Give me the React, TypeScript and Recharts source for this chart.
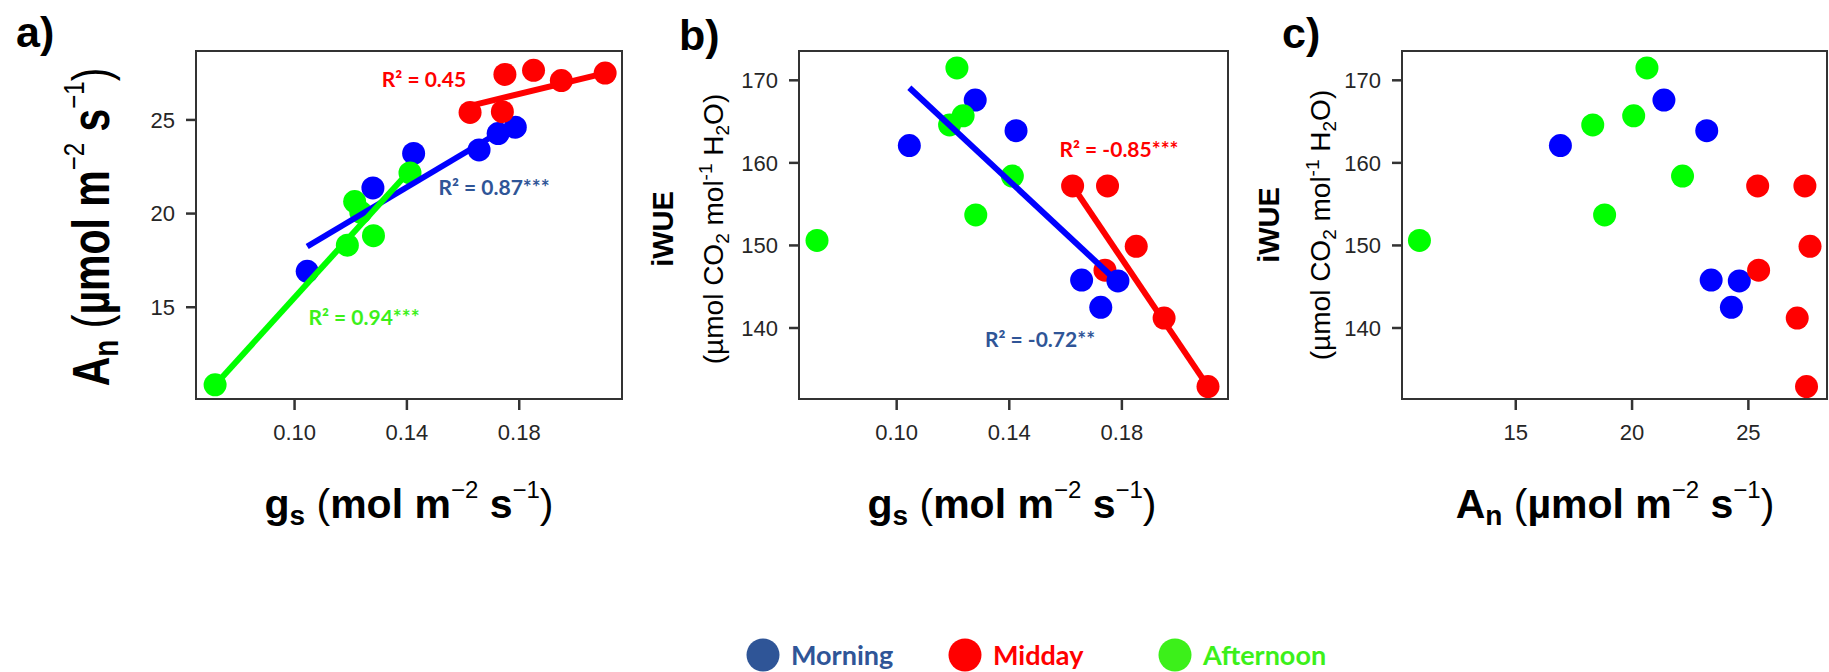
import React from 'react';
import { ScatterChart, Scatter, XAxis, YAxis, ReferenceArea } from 'recharts';

// ---------- data ----------
const morningGs = [0.1045, 0.1279, 0.1424, 0.1657, 0.1725, 0.1786];
const morningAn = [16.92, 21.37, 23.21, 23.4, 24.27, 24.61];
const morningWue = [162.1, 167.6, 163.9, 145.8, 142.5, 145.7];

const middayGs = [0.1625, 0.1749, 0.174, 0.1851, 0.195, 0.2106];
const middayAn = [25.4, 27.43, 25.44, 27.65, 27.1, 27.5];
const middayWue = [157.2, 157.2, 147.0, 149.9, 141.2, 132.9];

const afternoonGs = [0.0717, 0.1188, 0.1214, 0.1236, 0.1281, 0.1411];
const afternoonAn = [10.86, 18.31, 20.64, 20.07, 18.82, 22.17];
const afternoonWue = [150.6, 164.6, 171.5, 165.7, 153.7, 158.4];

// fitted regression lines (end points)
const fitAMorningGs = [0.1045, 0.1786];
const fitAMorningAn = [18.24, 24.85];
const fitAMiddayGs = [0.1625, 0.2106];
const fitAMiddayAn = [25.75, 27.5];
const fitAAfternoonGs = [0.0717, 0.1411];
const fitAAfternoonAn = [10.85, 22.3];
const fitBMorningGs = [0.1045, 0.1775];
const fitBMorningWue = [169.1, 145.9];
const fitBMiddayGs = [0.1625, 0.2108];
const fitBMiddayWue = [157.2, 132.8];

const gsTicks = [0.1, 0.14, 0.18];
const anTicks = [15, 20, 25];
const wueTicks = [140, 150, 160, 170];

const periodNames = ['Morning', 'Midday', 'Afternoon'];
const pointColors = ['#0000FF', '#FF0000', '#00FF00'];
const legendColors = ['#2F5597', '#FF0000', '#3CF01A'];
const r2Labels = ['R² = 0.45', 'R² = 0.87***', 'R² = 0.94***', 'R² = -0.85***', 'R² = -0.72**'];

// ---------- helpers ----------
const zip = (xs: number[], ys: number[]) => xs.map((x, i) => ({ x, y: ys[i] }));

const dotShape = (color: string) => (props: any) => (
  <circle cx={props.cx} cy={props.cy} r={11.5} fill={color} />
);
const noShape = () => <g />;

const AXIS = '#333333';
const TICK_FONT = { fontSize: 22, fill: '#262626', fontFamily: "'Liberation Sans', Arial, sans-serif" };

type Series = { data: { x: number; y: number }[]; color: string };
type PanelProps = {
  left: number;
  width: number;
  height: number;
  margin: { top: number; right: number; bottom: number; left: number };
  xDomain: [number, number];
  yDomain: [number, number];
  xTicks: number[];
  yTicks: number[];
  xFmt: (v: number) => string;
  points: Series[];
  fits: Series[];
};

function Panel(p: PanelProps) {
  return (
    <div style={{ position: 'absolute', left: p.left, top: 0 }}>
      <ScatterChart width={p.width} height={p.height} margin={p.margin}>
        <XAxis
          type="number"
          dataKey="x"
          domain={p.xDomain}
          ticks={p.xTicks}
          interval={0}
          allowDataOverflow
          tickFormatter={p.xFmt}
          height={60}
          tickSize={11}
          tickMargin={14}
          axisLine={{ stroke: AXIS, strokeWidth: 2 }}
          tickLine={{ stroke: AXIS, strokeWidth: 2.5 }}
          tick={TICK_FONT}
        />
        <YAxis
          type="number"
          dataKey="y"
          domain={p.yDomain}
          ticks={p.yTicks}
          interval={0}
          allowDataOverflow
          width={60}
          tickSize={10}
          tickMargin={11}
          axisLine={{ stroke: AXIS, strokeWidth: 2 }}
          tickLine={{ stroke: AXIS, strokeWidth: 2.5 }}
          tick={TICK_FONT}
        />
        <ReferenceArea
          x1={p.xDomain[0]}
          x2={p.xDomain[1]}
          y1={p.yDomain[0]}
          y2={p.yDomain[1]}
          fill="none"
          fillOpacity={0}
          stroke={AXIS}
          strokeWidth={2}
          ifOverflow="visible"
        />
        {p.points.map((s, i) => (
          <Scatter
            key={'p' + i}
            data={s.data}
            fill={s.color}
            shape={dotShape(s.color)}
            isAnimationActive={false}
          />
        ))}
        {p.fits.map((s, i) => (
          <Scatter
            key={'f' + i}
            data={s.data}
            fill={s.color}
            stroke={s.color}
            line={{ stroke: s.color, strokeWidth: 6 }}
            shape={noShape}
            legendType="none"
            isAnimationActive={false}
          />
        ))}
      </ScatterChart>
    </div>
  );
}

type Seg = { t: string; k?: 'sub' | 'sup' | 'paren' };
function rich(segs: Seg[], o: { sub: number; sup: number; subShift: number; supShift: number; parenWeight?: string; supWeight?: string }) {
  let cur = 0;
  return segs.map((s, i) => {
    const target = s.k === 'sub' ? o.subShift : s.k === 'sup' ? -o.supShift : 0;
    const dy = target - cur;
    cur = target;
    const props: any = { key: i, dy };
    if (s.k === 'sub') props.fontSize = o.sub;
    if (s.k === 'sup') {
      props.fontSize = o.sup;
      if (o.supWeight) props.fontWeight = o.supWeight;
    }
    if (s.k === 'paren' && o.parenWeight) props.fontWeight = o.parenWeight;
    return <tspan {...props}>{s.t}</tspan>;
  });
}

const gsTitle: Seg[] = [
  { t: 'g' },
  { t: 's', k: 'sub' },
  { t: ' (', k: 'paren' },
  { t: 'mol m' },
  { t: '−2', k: 'sup' },
  { t: ' s' },
  { t: '−1', k: 'sup' },
  { t: ')', k: 'paren' },
];
const anTitle: Seg[] = [
  { t: 'A' },
  { t: 'n', k: 'sub' },
  { t: ' (', k: 'paren' },
  { t: 'µmol m' },
  { t: '−2', k: 'sup' },
  { t: ' s' },
  { t: '−1', k: 'sup' },
  { t: ')', k: 'paren' },
];
const wueUnit: Seg[] = [
  { t: '(µmol CO' },
  { t: '2', k: 'sub' },
  { t: ' mol' },
  { t: '-1', k: 'sup' },
  { t: ' H' },
  { t: '2', k: 'sub' },
  { t: 'O)' },
];

const TITLE_FONT = "'Liberation Sans', Arial, sans-serif";
const CAL_FONT = "Lato, 'Open Sans', sans-serif";
const bigOpts = { sub: 28, sup: 24, subShift: 7, supShift: 20, parenWeight: 'normal', supWeight: 'normal' };
const unitOpts = { sub: 19, sup: 19, subShift: 6, supShift: 11 };

function Overlay() {
  const xTitle = (segs: Seg[], cx: number) => (
    <text x={cx} y={518} textAnchor="middle" fontFamily={TITLE_FONT} fontWeight="bold" fontSize={41} fill="#000" style={{ whiteSpace: 'pre' }}>
      {rich(segs, bigOpts)}
    </text>
  );
  const wueTitle = (x1: number, x2: number, cy: number) => (
    <g>
      <text transform={`translate(${x1},${cy}) rotate(-90)`} textAnchor="middle" fontFamily={TITLE_FONT} fontWeight="bold" fontSize={29} fill="#000">
        iWUE
      </text>
      <text transform={`translate(${x2},${cy}) rotate(-90)`} textAnchor="middle" fontFamily={TITLE_FONT} fontSize={28} fill="#000" style={{ whiteSpace: 'pre' }}>
        {rich(wueUnit, unitOpts)}
      </text>
    </g>
  );
  const r2 = (i: number, x: number, y: number, color: string) => (
    <text x={x} y={y} textAnchor="middle" fontFamily={CAL_FONT} fontWeight="bold" fontSize={21} fill={color}>
      {r2Labels[i]}
    </text>
  );
  const letter = (t: string, x: number, y: number) => (
    <text x={x} y={y} fontFamily={TITLE_FONT} fontWeight="bold" fontSize={43} fill="#000">
      {t}
    </text>
  );
  const legendX = [763, 965, 1175];
  return (
    <svg width={1829} height={672} style={{ position: 'absolute', left: 0, top: 0, pointerEvents: 'none' }}>
      {letter('a)', 16, 47)}
      {letter('b)', 679, 50)}
      {letter('c)', 1282, 48)}

      {xTitle(gsTitle, 409)}
      {xTitle(gsTitle, 1012)}
      {xTitle(anTitle, 1615)}

      <text transform="translate(109,227) rotate(-90) scale(1,1.25)" textAnchor="middle" fontFamily={TITLE_FONT} fontWeight="bold" fontSize={41} fill="#000" style={{ whiteSpace: 'pre' }}>
        {rich(anTitle, bigOpts)}
      </text>
      {wueTitle(673, 723, 229)}
      {wueTitle(1279, 1330, 225)}

      {r2(0, 424, 87, '#FF0000')}
      {r2(1, 494, 195, '#2F5597')}
      {r2(2, 364, 325, '#3CF01A')}
      {r2(3, 1119, 157, '#FF0000')}
      {r2(4, 1040, 347, '#2F5597')}

      {periodNames.map((n, i) => (
        <g key={n}>
          <circle cx={legendX[i]} cy={655} r={16.5} fill={legendColors[i]} />
          <text x={legendX[i] + 28} y={665} fontFamily={CAL_FONT} fontWeight="bold" fontSize={27} fill={legendColors[i]}>
            {n}
          </text>
        </g>
      ))}
    </svg>
  );
}

const fmt2 = (v: number) => v.toFixed(2);
const fmt0 = (v: number) => String(v);

export default function App() {
  const pointsA: Series[] = [
    { data: zip(morningGs, morningAn), color: pointColors[0] },
    { data: zip(middayGs, middayAn), color: pointColors[1] },
    { data: zip(afternoonGs, afternoonAn), color: pointColors[2] },
  ];
  const fitsA: Series[] = [
    { data: zip(fitAMiddayGs, fitAMiddayAn), color: pointColors[1] },
    { data: zip(fitAMorningGs, fitAMorningAn), color: pointColors[0] },
    { data: zip(fitAAfternoonGs, fitAAfternoonAn), color: pointColors[2] },
  ];
  const pointsB: Series[] = [
    { data: zip(middayGs, middayWue), color: pointColors[1] },
    { data: zip(morningGs, morningWue), color: pointColors[0] },
    { data: zip(afternoonGs, afternoonWue), color: pointColors[2] },
  ];
  const fitsB: Series[] = [
    { data: zip(fitBMorningGs, fitBMorningWue), color: pointColors[0] },
    { data: zip(fitBMiddayGs, fitBMiddayWue), color: pointColors[1] },
  ];
  const pointsC: Series[] = [
    { data: zip(morningAn, morningWue), color: pointColors[0] },
    { data: zip(middayAn, middayWue), color: pointColors[1] },
    { data: zip(afternoonAn, afternoonWue), color: pointColors[2] },
  ];
  return (
    <div style={{ position: 'absolute', left: 0, top: 0, width: 1829, height: 672, background: '#fff', overflow: 'hidden' }}>
      <Panel
        left={0}
        width={660}
        height={560}
        margin={{ top: 51, right: 38, bottom: 101, left: 136 }}
        xDomain={[0.0649, 0.2166]}
        yDomain={[10.1, 28.68]}
        xTicks={gsTicks}
        yTicks={anTicks}
        xFmt={fmt2}
        points={pointsA}
        fits={fitsA}
      />
      <Panel
        left={700}
        width={560}
        height={560}
        margin={{ top: 51, right: 32, bottom: 101, left: 39 }}
        xDomain={[0.0653, 0.2177]}
        yDomain={[131.4, 173.55]}
        xTicks={gsTicks}
        yTicks={wueTicks}
        xFmt={fmt2}
        points={pointsB}
        fits={fitsB}
      />
      <Panel
        left={1300}
        width={529}
        height={560}
        margin={{ top: 51, right: 2, bottom: 101, left: 42 }}
        xDomain={[10.11, 28.38]}
        yDomain={[131.4, 173.55]}
        xTicks={anTicks}
        yTicks={wueTicks}
        xFmt={fmt0}
        points={pointsC}
        fits={[]}
      />
      <Overlay />
    </div>
  );
}
